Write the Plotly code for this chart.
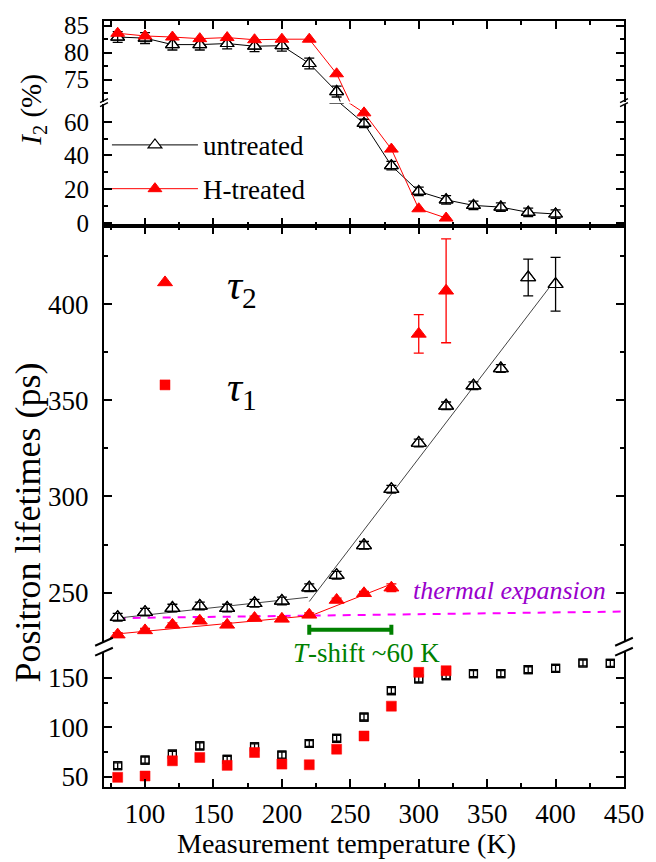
import plotly.graph_objects as go

# ---------------- data ----------------
T_I2_u = [80, 100, 120, 140, 160, 180, 200, 220, 240, 260, 280, 300, 320, 340, 360, 380, 400]
I2_untreated = [82.9, 82.7, 81.5, 81.5, 81.7, 81.2, 81.3, 78.0, 72.8, 59.0, 34.0, 18.7, 13.7, 10.4, 9.4, 6.3, 5.3]
I2_untreated_err = [1.0, 1.0, 1.0, 1.0, 1.0, 1.0, 1.0, 1.0, 1.0, 2.5, 2.5, 2.5, 2.5, 2.5, 2.5, 2.5, 2.5]
T_I2_h = [80, 100, 120, 140, 160, 180, 200, 220, 240, 260, 280, 300, 320]
I2_htreated = [83.6, 83.1, 82.9, 82.6, 82.8, 82.4, 82.5, 82.5, 76.1, 65.3, 43.8, 8.4, 2.9]

T_tau2_u = [80, 100, 120, 140, 160, 180, 200, 220, 240, 260, 280, 300, 320, 340, 360, 380, 400]
tau2_untreated = [237.3, 239.9, 242.0, 243.1, 242.0, 244.5, 245.7, 252.6, 259.1, 274.6, 303.8, 327.8, 347.1, 357.6, 366.5, 413.8, 410.3]
tau2_untreated_err = [2, 2, 2, 2, 2, 2, 2, 2, 2, 2, 2, 2, 2, 2, 2, 9.5, 14]
T_tau2_h = [80, 100, 120, 140, 160, 180, 200, 220, 240, 260, 280, 300, 320]
tau2_htreated = [228.2, 230.4, 233.3, 235.4, 233.3, 236.8, 236.4, 238.5, 246.2, 249.7, 252.6, 384.5, 406.9]
tau2_htreated_err = [1, 1, 1, 1, 1, 1, 1, 1, 1, 1, 2, 10, 27]

T_tau1_u = [80, 100, 120, 140, 160, 180, 200, 220, 240, 260, 280, 300, 320, 340, 360, 380, 400, 420, 440]
tau1_untreated = [61.1, 66.8, 72.8, 81.2, 67.5, 80.2, 71.8, 83.6, 88.9, 110.4, 137.2, 149.0, 152.3, 154.3, 154.3, 158.3, 159.7, 165.1, 164.7]
tau1_untreated_err = [3] * 19
T_tau1_h = [80, 100, 120, 140, 160, 180, 200, 220, 240, 260, 280, 300, 320]
tau1_htreated = [49.4, 50.7, 66.1, 69.5, 61.5, 74.5, 62.8, 62.1, 77.9, 91.2, 121.4, 155.6, 157.3]

fit_u_x = [80, 219, None, 220, 398]
fit_u_y = [236.8, 247.6, None, 245.4, 411.0]
fit_h_x = [80, 220, None, 220, 280]
fit_h_y = [228.6, 238.0, None, 237.7, 254.5]
thermal_x = [80, 450]
thermal_y = [236.8, 240.2]
shift_x = [220, 280]
shift_y = 230.8

x_ticks = [100, 150, 200, 250, 300, 350, 400, 450]

# ---------------- layout geometry ----------------
W, H = 656, 862
ML, MR, MT, MB = 104, 24, 17, 75
PW, PH = W - ML - MR, H - MT - MB


def px_x(px):
    return (px - ML) / PW


def px_y(py):
    return (H - MB - py) / PH


FONT = "Liberation Serif"
BLACK = "black"
RED = "#FF0000"

fig = go.Figure()

# ---------- top panel (broken axis: y upper / y2 lower) ----------
for i, (xa, ya) in enumerate([("x4", "y"), ("x3", "y2")]):
    fig.add_trace(go.Scatter(
        x=T_I2_u, y=I2_untreated, mode="lines+markers", name="untreated",
        xaxis=xa, yaxis=ya, legend="legend", showlegend=(i == 0),
        line=dict(color=BLACK, width=1),
        marker=dict(symbol="triangle-up", size=12, color="white", line=dict(color=BLACK, width=1.2))))
    fig.add_trace(go.Scatter(
        x=T_I2_u, y=I2_untreated, mode="markers", showlegend=False, xaxis=xa, yaxis=ya,
        marker=dict(symbol="triangle-up-open", size=12, color=BLACK, line=dict(width=1.2)),
        error_y=dict(type="data", array=I2_untreated_err, color=BLACK, thickness=1.3, width=5)))
    fig.add_trace(go.Scatter(
        x=T_I2_h, y=I2_htreated, mode="lines+markers", name="H-treated",
        xaxis=xa, yaxis=ya, legend="legend2", showlegend=(i == 0),
        line=dict(color=RED, width=1),
        marker=dict(symbol="triangle-up", size=12, color=RED, line=dict(color=RED, width=1))))

# ---------- middle panel (tau2) ----------
fig.add_trace(go.Scatter(x=thermal_x, y=thermal_y, mode="lines", showlegend=False, xaxis="x2", yaxis="y3",
                         line=dict(color="#FF00FF", width=2, dash="8px,7px")))
fig.add_trace(go.Scatter(x=fit_u_x, y=fit_u_y, mode="lines", showlegend=False, xaxis="x2", yaxis="y3",
                         line=dict(color="#444444", width=1)))
fig.add_trace(go.Scatter(x=fit_h_x, y=fit_h_y, mode="lines", showlegend=False, xaxis="x2", yaxis="y3",
                         line=dict(color=RED, width=1)))
fig.add_trace(go.Scatter(
    x=T_tau2_u, y=tau2_untreated, mode="markers", showlegend=False, xaxis="x2", yaxis="y3",
    marker=dict(symbol="triangle-up", size=13, color="white", line=dict(color=BLACK, width=1.2))))
fig.add_trace(go.Scatter(
    x=T_tau2_u, y=tau2_untreated, mode="markers", showlegend=False, xaxis="x2", yaxis="y3",
    marker=dict(symbol="triangle-up-open", size=13, color=BLACK, line=dict(width=1.2)),
    error_y=dict(type="data", array=tau2_untreated_err, color=BLACK, thickness=1.3, width=5)))
fig.add_trace(go.Scatter(
    x=T_tau2_h, y=tau2_htreated, mode="markers", name="<i>τ</i><sub>2</sub>", legend="legend3",
    xaxis="x2", yaxis="y3",
    marker=dict(symbol="triangle-up", size=13, color=RED, line=dict(color=RED, width=1)),
    error_y=dict(type="data", array=tau2_htreated_err, color=RED, thickness=1.3, width=5)))
# T-shift bar
fig.add_trace(go.Scatter(
    x=[(shift_x[0] + shift_x[1]) / 2], y=[shift_y], mode="markers", showlegend=False,
    xaxis="x2", yaxis="y3", marker=dict(size=1, opacity=0),
    error_x=dict(type="data", array=[(shift_x[1] - shift_x[0]) / 2], color="#008000", thickness=4, width=5)))

# ---------- bottom panel (tau1) ----------
fig.add_trace(go.Scatter(
    x=T_tau1_u, y=tau1_untreated, mode="markers", showlegend=False, xaxis="x", yaxis="y4",
    marker=dict(symbol="square", size=8, color="white", line=dict(color=BLACK, width=1.2))))
fig.add_trace(go.Scatter(
    x=T_tau1_u, y=tau1_untreated, mode="markers", showlegend=False, xaxis="x", yaxis="y4",
    marker=dict(symbol="square-open", size=8, color=BLACK, line=dict(width=1.2)),
    error_y=dict(type="data", array=tau1_untreated_err, color=BLACK, thickness=1.3, width=4)))
fig.add_trace(go.Scatter(
    x=T_tau1_h, y=tau1_htreated, mode="markers", name="<i>τ</i><sub>1</sub>", legend="legend4",
    xaxis="x", yaxis="y4",
    marker=dict(symbol="square", size=10, color=RED, line=dict(color=RED, width=0.5))))

# ---------------- axes ----------------
XR = [70, 450]
common = dict(showgrid=False, zeroline=False, showline=True, linecolor=BLACK, linewidth=2,
              ticks="inside", ticklen=8, tickwidth=2, tickcolor=BLACK)
minor_x = dict(dtick=25, ticklen=4, tickwidth=2, ticks="inside", tickcolor=BLACK, showgrid=False)

d_top_u = [px_y(98), 1.0]
d_top_l = [px_y(223), px_y(100)]
d_mid = [px_y(641), px_y(223)]
d_bot = [0.0, px_y(651)]

fig.update_layout(
    xaxis=dict(**common, range=XR, anchor="y4", domain=[0, 1], tickvals=x_ticks,
               tickfont=dict(size=27), ticklabelstandoff=2, minor=minor_x),
    xaxis2=dict(**common, range=XR, anchor="y3", side="top", domain=[0, 1], tickvals=x_ticks,
                showticklabels=False, minor=minor_x, matches="x"),
    xaxis3=dict(**common, range=XR, anchor="y2", side="bottom", domain=[0, 1], tickvals=x_ticks,
                showticklabels=False, minor=minor_x, matches="x"),
    xaxis4=dict(**common, range=XR, anchor="y", side="top", domain=[0, 1], tickvals=x_ticks,
                showticklabels=False, minor=minor_x, matches="x"),
    yaxis=dict(**common, range=[70.95, 85.87], domain=d_top_u, anchor="x4", mirror="ticks",
               tickvals=[75, 80, 85], tickfont=dict(size=25), ticklabelstandoff=8,
               minor=dict(tickvals=[72.5, 77.5, 82.5], ticklen=4, tickwidth=2, ticks="inside", tickcolor=BLACK)),
    yaxis2=dict(**common, range=[-1.77, 70.8], domain=d_top_l, anchor="x3", mirror="ticks",
                tickvals=[0, 20, 40, 60], tickfont=dict(size=25), ticklabelstandoff=8,
                minor=dict(tickvals=[10, 30, 50], ticklen=4, tickwidth=2, ticks="inside", tickcolor=BLACK)),
    yaxis3=dict(**common, range=[224.5, 440.6], domain=d_mid, anchor="x2", mirror="ticks",
                tickvals=[250, 300, 350, 400], tickfont=dict(size=27), ticklabelstandoff=8,
                minor=dict(tickvals=[225, 275, 325, 375, 425], ticklen=4, tickwidth=2, ticks="inside", tickcolor=BLACK)),
    yaxis4=dict(**common, range=[39.6, 176.5], domain=d_bot, anchor="x", mirror="ticks",
                tickvals=[50, 100, 150], tickfont=dict(size=27), ticklabelstandoff=8,
                minor=dict(tickvals=[75, 125], ticklen=4, tickwidth=2, ticks="inside", tickcolor=BLACK)),
)

# ---------------- legends ----------------
leg_common = dict(bgcolor="rgba(0,0,0,0)", borderwidth=0, xanchor="left", yanchor="middle",
                  orientation="v", itemclick=False)
fig.update_layout(
    legend=dict(**leg_common, x=px_x(107), y=px_y(142), itemwidth=86, font=dict(size=27, family=FONT)),
    legend2=dict(**leg_common, x=px_x(107), y=px_y(186), itemwidth=86, font=dict(size=27, family=FONT)),
    legend3=dict(**leg_common, x=px_x(103), y=px_y(280), itemwidth=114, font=dict(size=42, family=FONT)),
    legend4=dict(**leg_common, x=px_x(103), y=px_y(383), itemwidth=114, font=dict(size=42, family=FONT)),
)

# ---------------- annotations ----------------
annos = [
    dict(text="Positron lifetimes (ps)", x=px_x(27), y=px_y(521), textangle=-90, font=dict(size=36),
         yanchor="middle"),
    dict(text="<i>I</i><sub>2</sub> (%)", x=px_x(31), y=px_y(106), textangle=-90, font=dict(size=29),
         yanchor="middle"),
    dict(text="Measurement temperature (K)", x=px_x(350), y=px_y(861), font=dict(size=28),
         yanchor="bottom"),
]
for a in annos:
    fig.add_annotation(xref="paper", yref="paper", showarrow=False, xanchor="center", **a)
fig.add_annotation(text="<i>thermal expansion</i>", xref="x2", yref="y3", x=366.5, y=250.9,
                   showarrow=False, xanchor="center", yanchor="middle",
                   font=dict(size=26, color="#9900CC"))
fig.add_annotation(text="<i>T</i>-shift ~60 K", xref="paper", yref="paper", x=px_x(371), y=px_y(652),
                   showarrow=False, xanchor="center", yanchor="middle",
                   font=dict(size=27, color="#008000"))

# ---------------- axis-break marks ----------------
shapes = []
for xp in (104, 632):
    # top panel small break
    for dy in (-2, 2):
        shapes.append(dict(type="line", xref="paper", yref="paper",
                           x0=px_x(xp - 4), y0=px_y(99 + dy + 2), x1=px_x(xp + 4), y1=px_y(99 + dy - 2),
                           line=dict(color=BLACK, width=1.5)))
    # middle/bottom break
    for yc in (641, 651):
        shapes.append(dict(type="line", xref="paper", yref="paper",
                           x0=px_x(xp - 9), y0=px_y(yc + 4), x1=px_x(xp + 9), y1=px_y(yc - 4),
                           line=dict(color=BLACK, width=2)))
fig.update_layout(shapes=shapes)

fig.update_layout(
    width=W, height=H, margin=dict(l=ML, r=MR, t=MT, b=MB, pad=0),
    paper_bgcolor="white", plot_bgcolor="white",
    font=dict(family=FONT, color=BLACK, size=27),
)

fig.write_html("out.html")
